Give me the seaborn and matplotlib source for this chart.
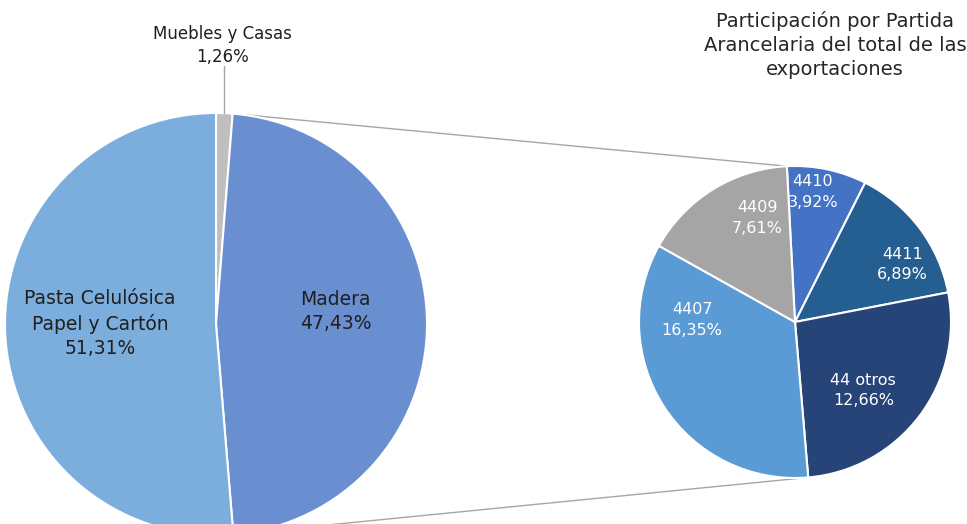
import numpy as np
import matplotlib
matplotlib.use("Agg")
import matplotlib.pyplot as plt
import seaborn as sns

# Data
main_labels = ["Muebles y Casas", "Madera", "Pasta Celulósica\nPapel y Cartón"]
main_values = [1.26, 47.43, 51.31]
main_pct = ["1,26%", "47,43%", "51,31%"]

sub_labels = ["4410", "4411", "44 otros", "4407", "4409"]
sub_values = [3.92, 6.89, 12.66, 16.35, 7.61]
sub_pct = ["3,92%", "6,89%", "12,66%", "16,35%", "7,61%"]

title = "Participación por Partida\nArancelaria del total de las\nexportaciones"

sns.set_theme(style="white")
plt.rcParams['font.family'] = ['DejaVu Sans']

main_colors = ["#BFBFBF", "#6A8FD0", "#7BAEDD"]
sub_colors = ["#4472C4", "#255E91", "#264478", "#5B9BD5", "#A5A5A5"]

fig = plt.figure(figsize=(9.67, 5.24), dpi=100)
ax = fig.add_axes([0, 0, 1, 1])

c1, r1 = (216, 200), 211
c2, r2 = (795, 202), 156

w1, _ = ax.pie(main_values, colors=main_colors, startangle=90, counterclock=False,
               center=c1, radius=r1, frame=True,
               wedgeprops=dict(edgecolor="white", linewidth=1.5))
w2, _ = ax.pie(sub_values, colors=sub_colors, startangle=93, counterclock=False,
               center=c2, radius=r2, frame=True,
               wedgeprops=dict(edgecolor="white", linewidth=1.5))


def pt(c, r, ang, d=1.0):
    a = np.deg2rad(ang)
    return c[0] + d * r * np.cos(a), c[1] + d * r * np.sin(a)


# labels of the main pie (distance, angle shift)
main_dist = [1.32, 0.57, 0.55]
main_shift = [1, 6, -2.5]
for i, w in enumerate(w1):
    mid = (w.theta1 + w.theta2) / 2 + main_shift[i]
    x, y = pt(c1, r1, mid, main_dist[i])
    fs = 12 if i == 0 else 13.5
    ax.text(x, y, f"{main_labels[i]}\n{main_pct[i]}", ha="center", va="center",
            fontsize=fs, color="#1F1F1F", linespacing=1.35)

# leader line for the small slice
mid0 = (w1[0].theta1 + w1[0].theta2) / 2
xe, ye = pt(c1, r1, mid0)
ax.plot([xe, xe], [ye, ye + 47], color="#A6A6A6", lw=1)

# labels of the sub pie (distance, angle shift)
sub_dist = [0.84, 0.78, 0.62, 0.66, 0.71]
sub_shift = [4, -9, -8, -34, -12]
for i, w in enumerate(w2):
    mid = (w.theta1 + w.theta2) / 2 + sub_shift[i]
    x, y = pt(c2, r2, mid, sub_dist[i])
    ax.text(x, y, f"{sub_labels[i]}\n{sub_pct[i]}", ha="center", va="center",
            fontsize=11.5, color="white", linespacing=1.45)

# connector lines
top_l = pt(c1, r1, w1[1].theta2)
bot_l = pt(c1, r1, w1[1].theta1)
top_r = pt(c2, r2, w2[0].theta2)
bot_r = pt(c2, r2, w2[2].theta1)
ax.plot([top_l[0], top_r[0]], [top_l[1], top_r[1]], color="#A6A6A6", lw=1, zorder=0)
ax.plot([bot_l[0], bot_r[0]], [bot_l[1], bot_r[1]], color="#A6A6A6", lw=1, zorder=0)

ax.text(835, 479, title, ha="center", va="center", fontsize=14, color="#262626",
        linespacing=1.32)

ax.set_xlim(0, 967)
ax.set_ylim(0, 524)
ax.set_aspect("equal")
ax.axis("off")

fig.savefig("out.png", dpi=100)
